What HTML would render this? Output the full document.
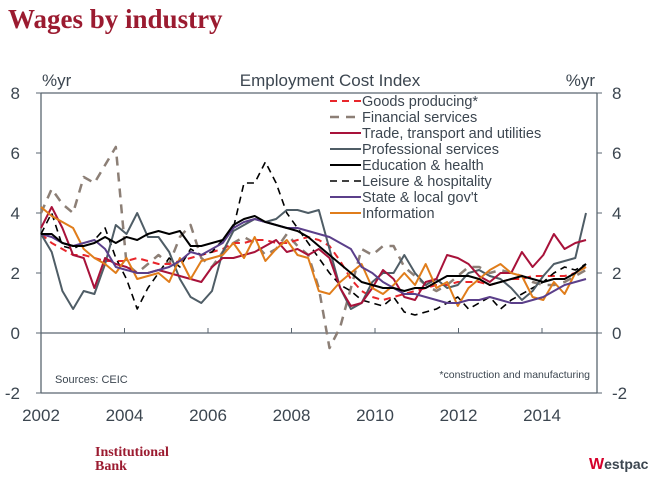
<!DOCTYPE html>
<html><head><meta charset="utf-8"><style>
body{margin:0;background:#fff;width:655px;height:475px;overflow:hidden;font-family:"Liberation Sans",sans-serif}
</style></head><body>
<svg width="655" height="475" viewBox="0 0 655 475" xmlns="http://www.w3.org/2000/svg">
<text x="8" y="28" font-family="Liberation Serif,serif" font-weight="bold" font-size="27" fill="#9b1b30">Wages by industry</text>
<g id="axes" font-size="17" fill="#3c4650"></g>
<g id="series"></g>
<g id="legend" font-size="14.5" fill="#3c4650"></g>
<text x="55" y="383" font-size="11" fill="#3c4650">Sources: CEIC</text>
<text x="590" y="378" font-size="10.5" fill="#3c4650" text-anchor="end">*construction and manufacturing</text>
<text x="95" y="456" font-family="Liberation Serif,serif" font-weight="bold" font-size="14" fill="#9b1b30">Institutional</text>
<text x="95" y="470" font-family="Liberation Serif,serif" font-weight="bold" font-size="14" fill="#9b1b30">Bank</text>
<text x="589" y="469" font-size="14" font-weight="bold" fill="#3c4650"><tspan fill="#d5002b" font-size="16">W</tspan>estpac</text>
</svg>
<script>
const yTicks=[-2,0,2,4,6,8];
const xTickLabels=["2002","2004","2006","2008","2010","2012","2014"];
const seriesNames=["Goods producing*","Financial services","Trade, transport and utilities","Professional services","Education & health","Leisure & hospitality","State & local gov't","Information"];
const goods=[3.3,3.0,2.8,2.6,2.6,2.5,2.4,2.4,2.4,2.5,2.4,2.3,2.3,2.4,2.5,2.6,2.7,2.8,3.0,3.0,3.1,3.1,3.0,3.0,3.1,3.2,3.1,2.9,2.4,1.8,1.4,1.2,1.1,1.2,1.3,1.4,1.5,1.6,1.6,1.7,1.7,1.7,1.6,1.7,1.8,1.8,1.9,1.9,1.9,1.9,2.0,2.2];
const financial=[4.0,4.8,4.3,4.0,5.2,5.0,5.6,6.2,2.3,2.0,2.3,2.6,2.3,3.2,3.6,2.5,2.2,2.7,3.0,3.2,3.0,2.6,2.8,3.3,2.9,2.6,1.5,-0.5,0.2,1.5,2.8,2.6,2.9,2.9,2.2,1.9,1.6,1.4,1.6,1.9,2.2,2.2,2.0,2.1,2.0,1.9,1.7,1.6,1.6,1.7,1.9,2.1];
const trade=[3.5,4.2,3.5,2.6,2.5,1.5,2.5,2.3,2.2,2.0,2.0,2.1,2.0,1.9,1.8,1.7,2.2,2.5,2.5,2.6,2.7,2.9,3.1,2.7,2.8,2.6,2.8,2.5,1.5,0.9,1.0,1.5,2.1,1.8,1.2,1.1,1.7,1.8,2.6,2.5,2.3,1.9,1.7,2.0,2.0,2.7,2.2,2.6,3.3,2.8,3.0,3.1];
const professional=[3.3,2.7,1.4,0.8,1.4,1.3,2.3,3.6,3.3,4.0,3.2,3.2,2.7,1.8,1.2,1.0,1.4,2.7,3.4,3.6,3.8,3.7,3.8,4.1,4.1,4.0,4.1,2.8,1.5,0.8,1.0,1.7,2.0,2.0,2.6,2.0,1.6,1.8,1.5,1.6,2.0,2.1,1.9,1.8,1.5,1.1,1.4,1.9,2.3,2.4,2.5,4.0];
const education=[3.3,3.3,3.0,2.9,2.9,3.0,3.2,3.0,3.2,3.1,3.3,3.4,3.3,3.4,2.9,2.9,3.0,3.1,3.6,3.8,3.9,3.7,3.6,3.5,3.4,3.2,2.9,2.6,2.3,2.0,1.7,1.6,1.5,1.5,1.4,1.5,1.5,1.7,1.9,1.9,1.9,1.8,1.6,1.7,1.8,1.9,1.8,1.7,1.8,1.8,2.0,2.3];
const leisure=[3.3,4.0,2.9,2.8,3.0,3.1,3.5,2.5,1.8,0.8,1.5,2.0,2.5,2.2,2.8,2.6,2.7,3.1,3.5,5.0,5.0,5.7,5.0,4.0,3.5,3.0,2.5,2.0,1.6,1.4,1.1,1.0,0.9,1.2,0.7,0.6,0.7,0.8,1.0,1.2,0.8,1.0,1.2,0.8,1.1,1.3,1.5,1.7,2.0,2.2,2.1,2.3];
const state=[3.3,3.2,3.0,2.9,3.0,3.1,2.8,2.2,2.1,2.0,2.0,2.1,2.2,2.4,2.7,2.6,2.8,3.0,3.5,3.7,3.8,3.7,3.6,3.5,3.5,3.4,3.3,3.2,3.0,2.8,2.2,2.0,1.7,1.5,1.3,1.3,1.2,1.1,1.0,1.0,1.1,1.1,1.2,1.1,1.0,1.0,1.1,1.2,1.4,1.6,1.7,1.8];
const information=[4.2,3.9,3.7,3.5,2.8,2.5,2.3,2.0,2.5,1.8,1.9,2.0,1.7,2.5,1.8,2.4,2.5,2.6,3.0,2.5,3.2,2.4,2.8,3.1,2.6,2.5,1.4,1.3,1.7,2.0,2.3,1.5,1.3,1.6,2.0,1.6,2.3,1.5,1.7,0.9,1.5,1.8,2.1,2.3,2.0,1.9,1.2,1.1,1.7,1.3,2.0,2.2];

const NS="http://www.w3.org/2000/svg";
const L=41,R=597,T=93,B=393;
function y(v){return 333-30*v;}
function xq(i){return L+i*(586-L)/51;}
function xYear(yr){return L+(yr-2002)*41.75;}
function mk(tag,attrs,parent){const e=document.createElementNS(NS,tag);for(const k in attrs)e.setAttribute(k,attrs[k]);parent.appendChild(e);return e;}
const axes=document.getElementById('axes');
const ax='#5a6670';
let e=mk('line',{x1:L,y1:T,x2:R,y2:T,stroke:ax,'stroke-width':1.3},axes);


e=mk('line',{x1:L,y1:B,x2:R,y2:B,stroke:ax,'stroke-width':1.3},axes);


e=mk('line',{x1:L,y1:T,x2:L,y2:B,stroke:ax,'stroke-width':1.3},axes);


e=mk('line',{x1:R,y1:T,x2:R,y2:B,stroke:ax,'stroke-width':1.3},axes);


e=mk('line',{x1:L,y1:y(0),x2:R,y2:y(0),stroke:ax,'stroke-width':1.3},axes);


yTicks.forEach(v=>{
 let t=mk('line',{x1:L-5,y1:y(v),x2:L,y2:y(v),stroke:ax},axes);
 
 
 t=mk('line',{x1:R,y1:y(v),x2:R+5,y2:y(v),stroke:ax},axes);
 
 
 let tx=mk('text',{x:20,y:y(v)+6,'text-anchor':'end'},axes);tx.textContent=v;
 
 
 tx=mk('text',{x:612,y:y(v)+6},axes);tx.textContent=v;
 
 
});
xTickLabels.forEach((s,i)=>{
 const yr=+s, xx=xYear(yr);
 if(i>0){let t=mk('line',{x1:xx,y1:y(0),x2:xx,y2:y(0)-5,stroke:ax},axes);
 
 }
 let tx=mk('text',{x:xx,y:421,'text-anchor':'middle'},axes);tx.textContent=s;
 
 
});
[['%yr',42,'start','left-axis-unit'],['Employment Cost Index',330,'middle','chart-subtitle'],['%yr',595,'end','right-axis-unit']].forEach(a=>{
 const tx=mk('text',{x:a[1],y:86,'text-anchor':a[2]},axes);tx.textContent=a[0];
 
 
});
const styles=[
 [goods,'#e8262b','7,5',2],
 [financial,'#8c7f76','9,7',2.5],
 [trade,'#a8123a',null,2],
 [professional,'#4f5d66',null,2],
 [education,'#000',null,2],
 [leisure,'#000','7,5',1.6],
 [state,'#5b3f8a',null,2],
 [information,'#e07d1b',null,2]];
const sg=document.getElementById('series');
const order=[1,0,5,3,2,7,6,4];
order.forEach(k=>{
 const s=styles[k];
 const d=s[0].map((v,i)=>(i?'L':'M')+xq(i).toFixed(1)+' '+y(v).toFixed(1)).join(' ');
 const p=mk('path',{d:d,fill:'none',stroke:s[1],'stroke-width':s[3],'stroke-linejoin':'round'},sg);
 if(s[2])p.setAttribute('stroke-dasharray',s[2]);
 
 
});
const lg=document.getElementById('legend');
seriesNames.forEach((n,i)=>{
 const s=styles[i], yy=101+i*16;
 const l=mk('line',{x1:330,y1:yy,x2:361,y2:yy,stroke:s[1],'stroke-width':s[3]},lg);
 if(s[2])l.setAttribute('stroke-dasharray',s[2]);
 
 
 const tx=mk('text',{x:362,y:yy+5},lg);tx.textContent=n;
 
 
});
</script>
</body></html>
